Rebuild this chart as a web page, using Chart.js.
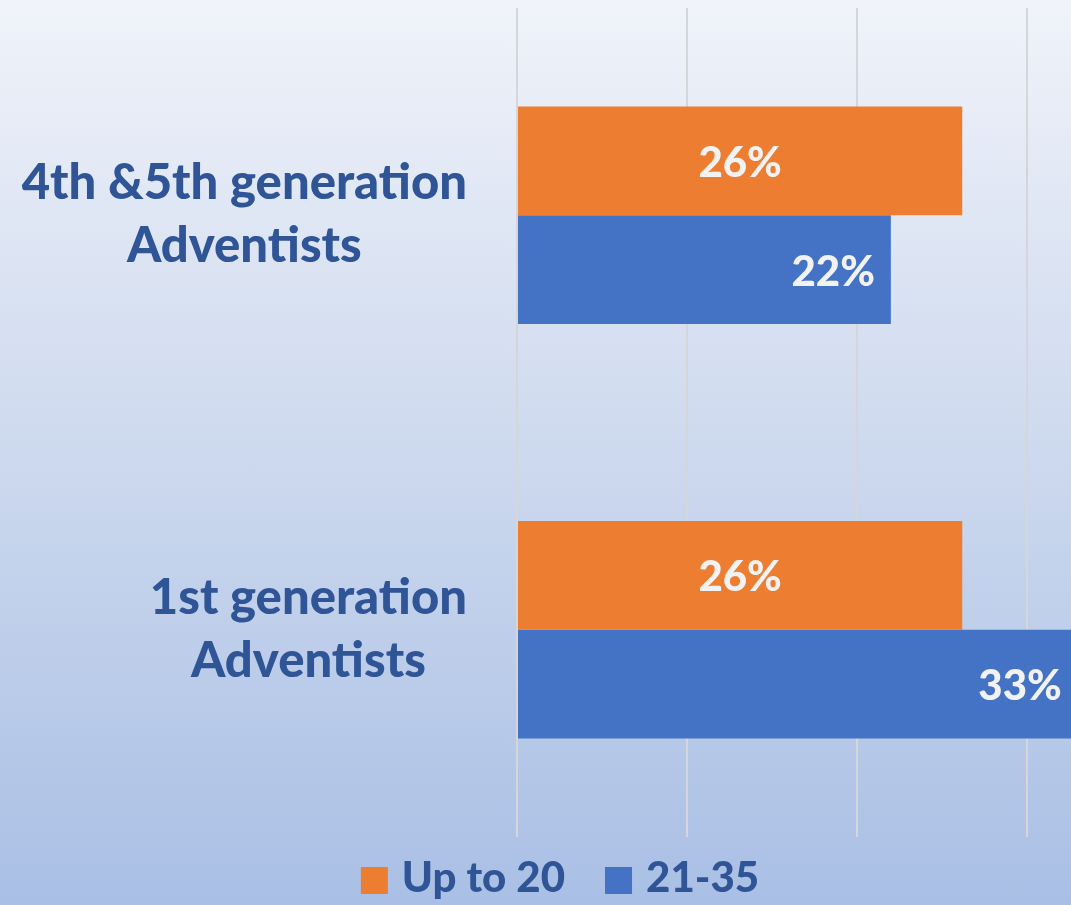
<!DOCTYPE html>
<html>
<head>
<meta charset="utf-8">
<script src="https://cdn.jsdelivr.net/npm/chart.js@4"></script>
<style>
  html, body { margin: 0; padding: 0; overflow: hidden; }
  body { width: 1071px; height: 905px; background: linear-gradient(to bottom, #f0f3fa 0%, #cdd9ee 50%, #a9bfe5 100%); }
  #wrap { position: absolute; left: 0; top: 0; width: 1071px; height: 905px; }
</style>
</head>
<body>
<div id="wrap"><canvas id="chart"></canvas></div>
<script>
// data
const categories = [['4th &5th generation', 'Adventists'], ['1st generation', 'Adventists']];
const seriesNames = ['Up to 20', '21-35'];
const upTo20 = [26.2, 26.2];
const age21to35 = [22, 33];
const gridTicks = [0, 10, 20, 30];

const textBlue = '#2f5597';
const orange = '#ed7d31';
const blue = '#4472c4';

// value labels + category labels + legend drawn by hand
const drawPlugin = {
  id: 'drawPlugin',
  afterDatasetsDraw(chart) {
    const ctx = chart.ctx;
    ctx.save();
    ctx.font = '900 42px Lato';
    ctx.fillStyle = '#f2f2f2';
    ctx.textBaseline = 'alphabetic';
    chart.data.datasets.forEach((ds, i) => {
      chart.getDatasetMeta(i).data.forEach((bar, j) => {
        const txt = Math.round(ds.data[j]) + '%';
        if (i === 0) {
          ctx.textAlign = 'center';
          ctx.fillText(txt, (bar.x + bar.base) / 2, bar.y + 16);
        } else {
          ctx.textAlign = 'right';
          ctx.fillText(txt, bar.x - 16, bar.y + 16);
        }
      });
    });
    ctx.restore();
  },
  afterDraw(chart) {
    const ctx = chart.ctx;
    const yScale = chart.scales.y;
    ctx.save();
    ctx.fillStyle = textBlue;
    ctx.textBaseline = 'alphabetic';
    ctx.textAlign = 'center';
    ctx.font = '900 49px Lato';
    categories.forEach((lines, j) => {
      const y = yScale.getPixelForValue(j);
      const w = Math.max(...lines.map(l => ctx.measureText(l).width));
      const cx = 467 - w / 2;
      ctx.fillText(lines[0], cx, y - 16);
      ctx.fillText(lines[1], cx, y + 47);
    });

    // legend
    ctx.font = '900 42px Lato';
    ctx.textAlign = 'left';
    const items = chart.data.datasets.map(ds => ({ text: ds.label, color: ds.backgroundColor, w: ctx.measureText(ds.label).width }));
    let total = 0;
    items.forEach((it, k) => { total += 27 + 14 + it.w + (k > 0 ? 40 : 0); });
    let x = 560 - total / 2;
    items.forEach(it => {
      ctx.fillStyle = it.color;
      ctx.fillRect(x, 867, 27, 27);
      ctx.fillStyle = textBlue;
      ctx.fillText(it.text, x + 41, 892);
      x += 27 + 14 + it.w + 40;
    });
    ctx.restore();
  }
};

new Chart(document.getElementById('chart'), {
  type: 'bar',
  data: {
    labels: categories,
    datasets: [
      { label: seriesNames[0], data: upTo20, backgroundColor: orange },
      { label: seriesNames[1], data: age21to35, backgroundColor: blue }
    ]
  },
  options: {
    indexAxis: 'y',
    responsive: true,
    maintainAspectRatio: false,
    animation: false,
    layout: { padding: { top: 8, bottom: 68, left: 0, right: 0 } },
    datasets: { bar: { barPercentage: 1, categoryPercentage: 0.525 } },
    plugins: { legend: { display: false }, tooltip: { enabled: false } },
    scales: {
      x: {
        min: 0,
        max: 32.6,
        afterBuildTicks: s => { s.ticks = gridTicks.map(v => ({ value: v })); },
        afterFit: s => { s.height = 0; },
        ticks: { display: false },
        border: { display: false },
        grid: { color: '#d4d6da', lineWidth: 2, drawTicks: false }
      },
      y: {
        afterFit: s => { s.width = 517; },
        ticks: { display: false },
        border: { display: false },
        grid: { display: false }
      }
    }
  },
  plugins: [drawPlugin]
});
</script>
</body>
</html>
